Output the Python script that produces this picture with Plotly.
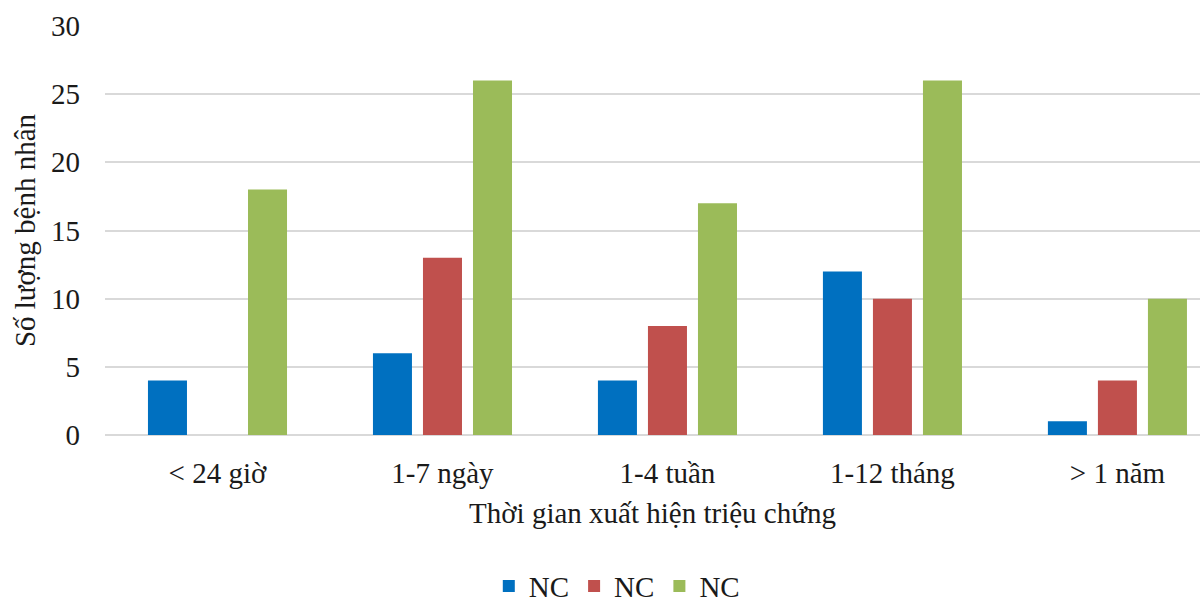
import plotly.graph_objects as go

categories = ["< 24 giờ", "1-7 ngày", "1-4 tuần", "1-12 tháng", "> 1 năm"]
series_names = ["NC", "NC", "NC"]
blue_values = [4, 6, 4, 12, 1]
red_values = [0, 13, 8, 10, 4]
green_values = [18, 26, 17, 26, 10]
y_ticks = [0, 5, 10, 15, 20, 25, 30]

colors = ["#0070C0", "#C0504D", "#9BBB59"]
font_family = "Liberation Serif, Times New Roman, serif"

fig = go.Figure()
for name, vals, col in zip(series_names, [blue_values, red_values, green_values], colors):
    fig.add_trace(go.Bar(x=categories, y=vals, name=name, marker_color=col,
                         marker_line_width=0))

fig.update_layout(
    width=1200, height=603,
    margin=dict(l=105, r=0, t=26, b=168),
    paper_bgcolor="white", plot_bgcolor="white",
    barmode="group", bargap=0.333, bargroupgap=0.22,
    font=dict(family=font_family, size=29, color="#1a1a1a"),
    showlegend=True,
    legend=dict(orientation="h", xref="container", yref="container",
                x=0.514, xanchor="center", y=0.028, yanchor="middle",
                font=dict(size=29), itemwidth=30, tracegroupgap=0,
                traceorder="normal"),
    xaxis=dict(range=[-0.5, 4.367], showgrid=False, showline=False,
               ticks="", ticklabelstandoff=18,
               title=dict(text="Thời gian xuất hiện triệu chứng", standoff=14,
                          font=dict(size=29))),
    yaxis=dict(range=[0, 30], tickvals=y_ticks, showgrid=True,
               gridcolor="#d9d9d9", gridwidth=1.5, zeroline=True,
               zerolinecolor="#d9d9d9", zerolinewidth=1.5, showline=False,
               ticks="", ticklabelstandoff=24,
               title=dict(text="Số lượng bệnh nhân", standoff=6,
                          font=dict(size=29))),
)

fig.write_html("out.html")
